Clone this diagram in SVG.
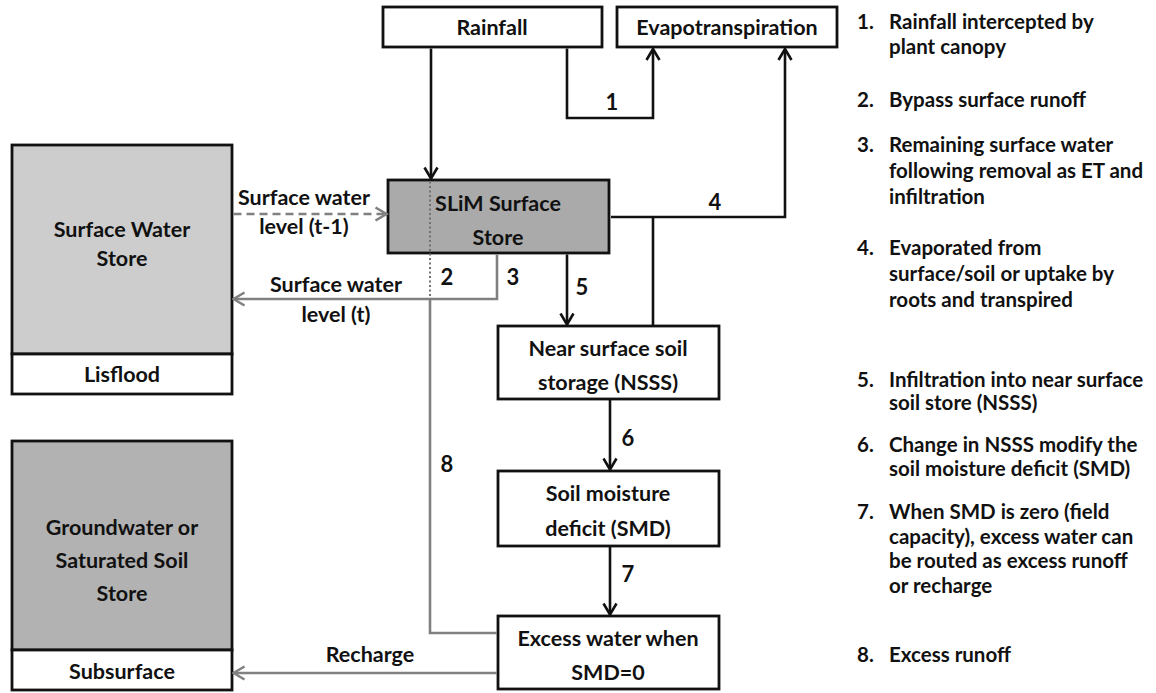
<svg xmlns="http://www.w3.org/2000/svg" width="1156" height="693" viewBox="0 0 1156 693">
<defs>
<style>
text{font-family:Lato,"Liberation Sans",sans-serif;font-weight:bold;fill:#111;}
.t{font-size:21.5px;text-anchor:middle;}
.n{font-size:22px;text-anchor:middle;}
.lg{font-size:20.5px;}
.box{fill:#fff;stroke:#111;stroke-width:2.8;}
.blk{fill:none;stroke:#111;stroke-width:2.6;}
.gry{fill:none;stroke:#808080;stroke-width:2.6;}
</style>
<marker id="ab" viewBox="0 0 16 16" refX="14" refY="8" markerWidth="16" markerHeight="16" markerUnits="userSpaceOnUse" orient="auto">
<path d="M3,1.5 L14,8 L3,14.5" fill="none" stroke="#111" stroke-width="2.6"/>
</marker>
<marker id="ag" viewBox="0 0 16 16" refX="14" refY="8" markerWidth="16" markerHeight="16" markerUnits="userSpaceOnUse" orient="auto">
<path d="M3,1.5 L14,8 L3,14.5" fill="none" stroke="#808080" stroke-width="2.6"/>
</marker>
</defs>
<rect width="1156" height="693" fill="#fff"/>

<g id="rainfall">
<rect class="box" x="383" y="7" width="219" height="40"/>
<text class="t" x="492" y="35">Rainfall</text>
</g>
<g id="evapotranspiration">
<rect class="box" x="617" y="7" width="220" height="40"/>
<text class="t" x="727" y="35">Evapotranspiration</text>
</g>
<g id="slim">
<rect class="box" x="388" y="180" width="221" height="73" style="fill:#aaaaaa"/>
<text class="t" x="498" y="211">SLiM Surface</text>
<text class="t" x="498" y="245">Store</text>
</g>
<g id="nsss">
<rect class="box" x="498" y="326" width="221" height="73"/>
<text class="t" x="608" y="356">Near surface soil</text>
<text class="t" x="608" y="390">storage (NSSS)</text>
</g>
<g id="smd">
<rect class="box" x="498" y="471" width="221" height="75"/>
<text class="t" x="608" y="501">Soil moisture</text>
<text class="t" x="608" y="536">deficit (SMD)</text>
</g>
<g id="excess">
<rect class="box" x="498" y="616" width="221" height="73"/>
<text class="t" x="608" y="646">Excess water when</text>
<text class="t" x="608" y="680">SMD=0</text>
</g>
<g id="surface-water-store">
<rect class="box" x="12" y="145" width="220" height="209" style="fill:#cdcdcd"/>
<rect class="box" x="12" y="354" width="220" height="40"/>
<text class="t" x="122" y="237">Surface Water</text>
<text class="t" x="122" y="266">Store</text>
<text class="t" x="122" y="382">Lisflood</text>
</g>
<g id="groundwater-store">
<rect class="box" x="12" y="441" width="220" height="209" style="fill:#b2b2b2"/>
<rect class="box" x="12" y="650" width="220" height="40"/>
<text class="t" x="122" y="535">Groundwater or</text>
<text class="t" x="122" y="568">Saturated Soil</text>
<text class="t" x="122" y="601">Store</text>
<text class="t" x="122" y="679">Subsurface</text>
</g>

<g id="connectors">
<path class="blk" d="M431,48.5 V178.5" marker-end="url(#ab)"/>
<path class="blk" d="M567,48.5 V118 H653 V49" marker-end="url(#ab)"/>
<path class="blk" d="M611,217 H785 V49" marker-end="url(#ab)"/>
<path class="blk" d="M653,217 V325"/>
<path class="blk" d="M567,254.5 V324.5" marker-end="url(#ab)"/>
<path class="blk" d="M610,400 V469.5" marker-end="url(#ab)"/>
<path class="blk" d="M610,547 V614.5" marker-end="url(#ab)"/>
<path class="gry" d="M233.5,214 H386.5" stroke-dasharray="8,5" marker-end="url(#ag)"/>
<path class="gry" d="M497,254.5 V299 H233.5" marker-end="url(#ag)"/>
<path d="M430,181.5 V299" fill="none" stroke="#707070" stroke-width="2" stroke-dasharray="2,2.5"/>
<path class="gry" d="M430,299 V633 H497"/>
<path class="gry" d="M497,673 H233.5" marker-end="url(#ag)"/>
<text class="n" x="612" y="110">1</text>
<text class="n" x="447" y="285">2</text>
<text class="n" x="513" y="285">3</text>
<text class="n" x="715" y="210">4</text>
<text class="n" x="582" y="295">5</text>
<text class="n" x="628" y="446">6</text>
<text class="n" x="628" y="582">7</text>
<text class="n" x="447" y="472">8</text>
<text class="t" x="304" y="205">Surface water</text>
<text class="t" x="304" y="234">level (t-1)</text>
<text class="t" x="336" y="292">Surface water</text>
<text class="t" x="336" y="322">level (t)</text>
<text class="t" x="370" y="662">Recharge</text>
</g>

<g id="legend">
<text class="lg" x="857" y="29">1.</text><text class="lg" x="889" y="29">Rainfall intercepted by</text>
<text class="lg" x="889" y="54">plant canopy</text>
<text class="lg" x="857" y="107">2.</text><text class="lg" x="889" y="107">Bypass surface runoff</text>
<text class="lg" x="857" y="152">3.</text><text class="lg" x="889" y="152">Remaining surface water</text>
<text class="lg" x="889" y="178">following removal as ET and</text>
<text class="lg" x="889" y="204">infiltration</text>
<text class="lg" x="857" y="255">4.</text><text class="lg" x="889" y="255">Evaporated from</text>
<text class="lg" x="889" y="281">surface/soil or uptake by</text>
<text class="lg" x="889" y="307">roots and transpired</text>
<text class="lg" x="857" y="387">5.</text><text class="lg" x="889" y="387">Infiltration into near surface</text>
<text class="lg" x="889" y="410">soil store (NSSS)</text>
<text class="lg" x="857" y="452">6.</text><text class="lg" x="889" y="452">Change in NSSS modify the</text>
<text class="lg" x="889" y="476">soil moisture deficit (SMD)</text>
<text class="lg" x="857" y="519">7.</text><text class="lg" x="889" y="519">When SMD is zero (field</text>
<text class="lg" x="889" y="544">capacity), excess water can</text>
<text class="lg" x="889" y="568">be routed as excess runoff</text>
<text class="lg" x="889" y="593">or recharge</text>
<text class="lg" x="857" y="662">8.</text><text class="lg" x="889" y="662">Excess runoff</text>
</g>
</svg>
